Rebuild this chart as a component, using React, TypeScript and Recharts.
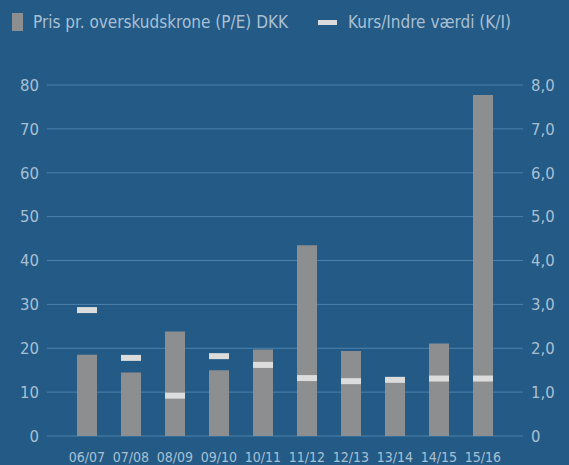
import { ComposedChart, Bar, Scatter, XAxis, YAxis, CartesianGrid } from "recharts";

const seasons = ["06/07", "07/08", "08/09", "09/10", "10/11", "11/12", "12/13", "13/14", "14/15", "15/16"];
const peValues = [18.5, 14.5, 23.8, 15.0, 19.7, 43.5, 19.4, 13.3, 21.1, 77.7];
const kiValues = [2.87, 1.78, 0.92, 1.82, 1.62, 1.32, 1.25, 1.28, 1.31, 1.31];
const leftTicks = [0, 10, 20, 30, 40, 50, 60, 70, 80];
const rightTicks = [0, 1, 2, 3, 4, 5, 6, 7, 8];

const data = seasons.map((s, i) => ({ season: s, pe: peValues[i], ki: kiValues[i] }));

const BG = "#235a86";
const BAR = "#8d8e8f";
const DASH = "#dcdcdc";
const TXT = "#a9c0d3";
const FONT = "'DejaVu Sans Condensed', 'DejaVu Sans', sans-serif";

const Dash = (props: any) => {
  const { cx, cy } = props;
  if (cx == null || cy == null) return null;
  return <rect x={cx - 10} y={cy - 3} width={20} height={6} fill={DASH} />;
};

const fmtRight = (v: number) => (v === 0 ? "0" : v.toFixed(1).replace(".", ","));

export default function App() {
  return (
    <div style={{ position: "fixed", left: 0, top: 0, width: 569, height: 465, background: BG, fontFamily: FONT }}>
      <div style={{ position: "absolute", left: 12, top: 13, width: 11, height: 18, background: BAR }} />
      <div style={{ position: "absolute", left: 33, top: 9, fontSize: 17, color: TXT, whiteSpace: "nowrap", lineHeight: "26px" }}>
        Pris pr. overskudskrone (P/E) DKK
      </div>
      <div style={{ position: "absolute", left: 318, top: 20, width: 19, height: 5, background: DASH }} />
      <div style={{ position: "absolute", left: 348, top: 9, fontSize: 17, color: TXT, whiteSpace: "nowrap", lineHeight: "26px" }}>
        Kurs/Indre værdi (K/I)
      </div>
      <ComposedChart width={569} height={465} data={data} margin={{ top: 85, right: 0, bottom: 0, left: 0 }}>
        <CartesianGrid vertical={false} stroke="#4d82ab" strokeWidth={1} yAxisId="left" />
        <XAxis
          dataKey="season"
          axisLine={false}
          tickLine={false}
          height={29}
          tickMargin={10}
          padding={{ left: 18, right: 18 }}
          tick={{ fill: TXT, fontSize: 14, fontFamily: FONT }}
          interval={0}
        />
        <YAxis
          yAxisId="left"
          domain={[0, 80]}
          ticks={leftTicks}
          width={47}
          axisLine={false}
          tickLine={false}
          tick={{ fill: TXT, fontSize: 16.5, fontFamily: FONT }}
        />
        <YAxis
          yAxisId="right"
          orientation="right"
          domain={[0, 8]}
          ticks={rightTicks}
          width={46}
          axisLine={false}
          tickLine={false}
          tickFormatter={fmtRight}
          tick={{ fill: TXT, fontSize: 16.5, fontFamily: FONT }}
        />
        <Bar yAxisId="left" dataKey="pe" fill={BAR} barSize={20} isAnimationActive={false} />
        <Scatter yAxisId="right" dataKey="ki" shape={Dash} isAnimationActive={false} />
      </ComposedChart>
    </div>
  );
}
